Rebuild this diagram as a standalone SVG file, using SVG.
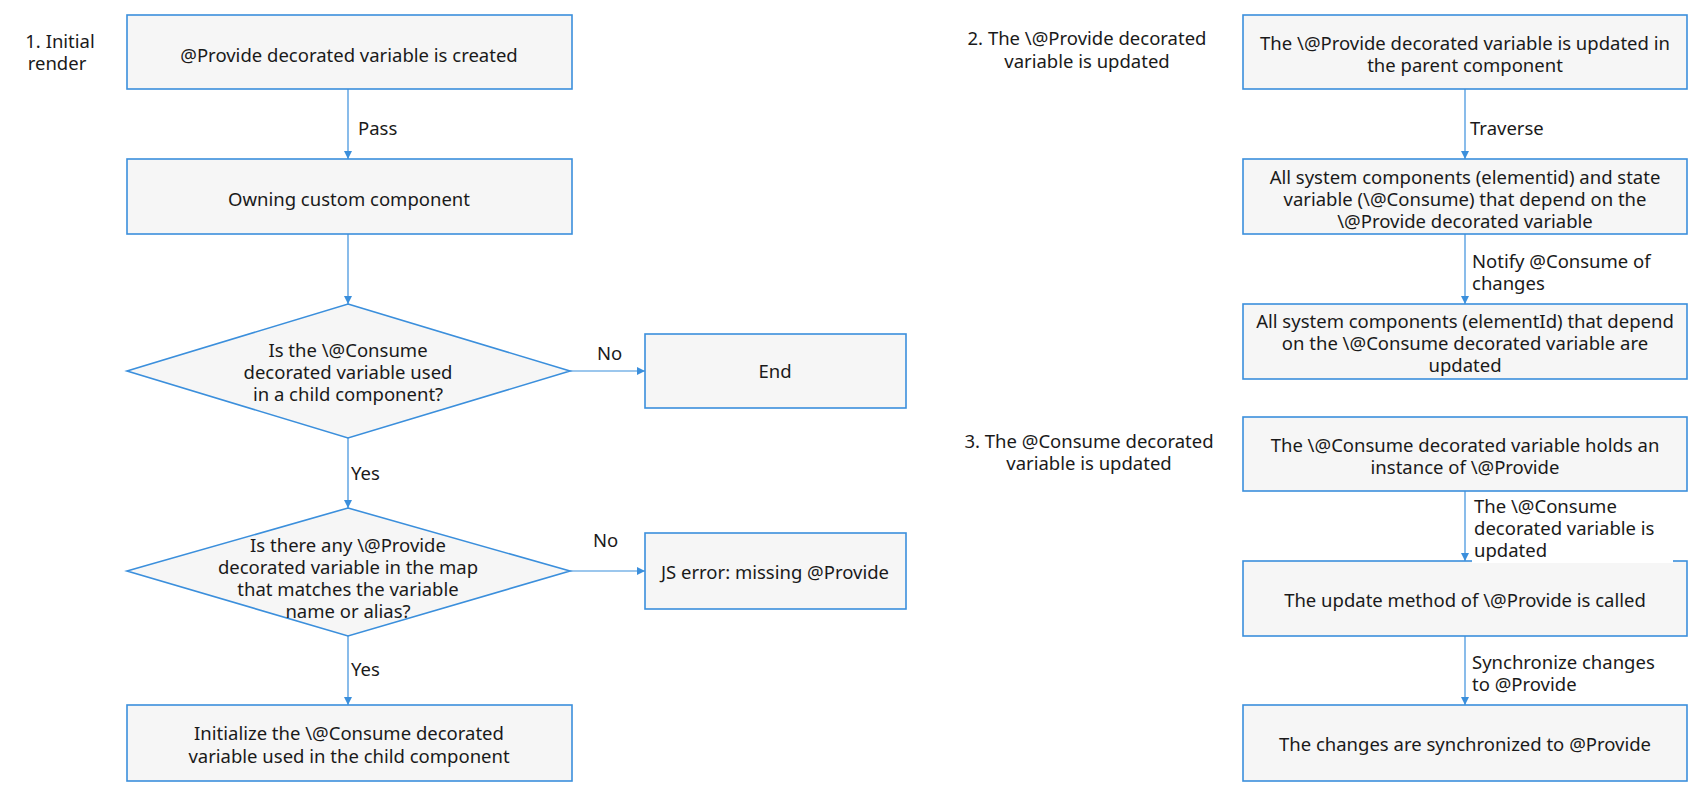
<svg xmlns="http://www.w3.org/2000/svg" width="1699" height="795" viewBox="0 0 1699 795">
<defs>
<style>
.box{fill:#f6f6f6;stroke:#3b8fdc;stroke-width:1.6}
.t{font-family:"Noto Sans","Liberation Sans",sans-serif;font-size:18.5px;fill:#1a1a1a;text-anchor:middle;dominant-baseline:central}
.l{font-family:"Noto Sans","Liberation Sans",sans-serif;font-size:18.5px;fill:#1a1a1a;dominant-baseline:central}
.c{stroke:#3b8fdc;stroke-width:1.2;fill:none;marker-end:url(#ah)}
</style>
<marker id="ah" viewBox="0 0 10 10" refX="10" refY="5" markerWidth="8" markerHeight="8" markerUnits="userSpaceOnUse" orient="auto">
<path d="M0,0 L10,5 L0,10 z" fill="#3b8fdc"/>
</marker>
</defs>
<rect width="1699" height="795" fill="#ffffff"/>

<g id="title1"><text class="t" x="60" y="40">1. Initial</text><text class="t" x="57" y="62">render</text></g>
<g id="title2"><text class="t" x="1087" y="37">2. The \@Provide decorated</text><text class="t" x="1087" y="60">variable is updated</text></g>
<g id="title3"><text class="t" x="1089" y="440">3. The @Consume decorated</text><text class="t" x="1089" y="462">variable is updated</text></g>

<g id="connectors">
<path class="c" d="M348,89 V159"/>
<path class="c" d="M348,234 V304"/>
<path class="c" d="M570,371 H645"/>
<path class="c" d="M348,438 V508"/>
<path class="c" d="M570,571 H645"/>
<path class="c" d="M348,636 V705"/>
<path class="c" d="M1465,89 V159"/>
<path class="c" d="M1465,234 V304"/>
<path class="c" d="M1465,491 V561"/>
<path class="c" d="M1465,636 V705"/>
</g>

<g id="n1"><rect class="box" x="127" y="15" width="445" height="74"/><text class="t" x="349" y="54">@Provide decorated variable is created</text></g>
<g id="n2"><rect class="box" x="127" y="159" width="445" height="75"/><text class="t" x="349" y="198">Owning custom component</text></g>
<g id="d1"><polygon class="box" points="348,304 570,371 348,438 127,371"/><text class="t" x="348" y="349">Is the \@Consume</text><text class="t" x="348" y="371">decorated variable used</text><text class="t" x="348" y="393">in a child component?</text></g>
<g id="end"><rect class="box" x="645" y="334" width="261" height="74"/><text class="t" x="775" y="370">End</text></g>
<g id="d2"><polygon class="box" points="348,508 570,571 348,636 127,571"/><text class="t" x="348" y="544">Is there any \@Provide</text><text class="t" x="348" y="566">decorated variable in the map</text><text class="t" x="348" y="588">that matches the variable</text><text class="t" x="348" y="610">name or alias?</text></g>
<g id="err"><rect class="box" x="645" y="533" width="261" height="76"/><text class="t" x="775" y="571">JS error: missing @Provide</text></g>
<g id="n3"><rect class="box" x="127" y="705" width="445" height="76"/><text class="t" x="349" y="732">Initialize the \@Consume decorated</text><text class="t" x="349" y="755">variable used in the child component</text></g>

<g id="labels-left">
<text class="l" x="358" y="127">Pass</text>
<text class="l" x="597" y="352">No</text>
<text class="l" x="351" y="472">Yes</text>
<text class="l" x="593" y="539">No</text>
<text class="l" x="351" y="668">Yes</text>
</g>

<g id="a1"><rect class="box" x="1243" y="15" width="444" height="74"/><text class="t" x="1465" y="42">The \@Provide decorated variable is updated in</text><text class="t" x="1465" y="64">the parent component</text></g>
<g id="a2"><rect class="box" x="1243" y="159" width="444" height="75"/><text class="t" x="1465" y="176">All system components (elementid) and state</text><text class="t" x="1465" y="198">variable (\@Consume) that depend on the</text><text class="t" x="1465" y="220">\@Provide decorated variable</text></g>
<g id="a3"><rect class="box" x="1243" y="304" width="444" height="75"/><text class="t" x="1465" y="320">All system components (elementId) that depend</text><text class="t" x="1465" y="342">on the \@Consume decorated variable are</text><text class="t" x="1465" y="364">updated</text></g>
<g id="b1"><rect class="box" x="1243" y="417" width="444" height="74"/><text class="t" x="1465" y="444">The \@Consume decorated variable holds an</text><text class="t" x="1465" y="466">instance of \@Provide</text></g>
<g id="b2"><rect class="box" x="1243" y="561" width="444" height="75"/><text class="t" x="1465" y="599">The update method of \@Provide is called</text></g>
<g id="b3"><rect class="box" x="1243" y="705" width="444" height="76"/><text class="t" x="1465" y="743">The changes are synchronized to @Provide</text></g>

<g id="labels-right">
<text class="l" x="1470" y="127">Traverse</text>
<text class="l" x="1472" y="260">Notify @Consume of</text>
<text class="l" x="1472" y="282">changes</text>
<rect x="1472" y="496" width="201" height="67" fill="#ffffff"/>
<text class="l" x="1474" y="505">The \@Consume</text>
<text class="l" x="1474" y="527">decorated variable is</text>
<text class="l" x="1474" y="549">updated</text>
<text class="l" x="1472" y="661">Synchronize changes</text>
<text class="l" x="1472" y="683">to @Provide</text>
</g>
</svg>
